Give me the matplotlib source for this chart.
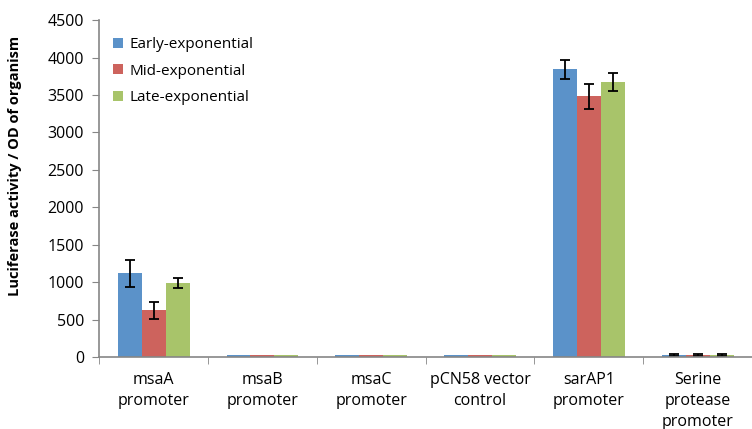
import matplotlib.pyplot as plt
import numpy as np

plt.rcParams['font.family'] = ['Open Sans', 'DejaVu Sans']

# data
categories = ['msaA\npromoter', 'msaB\npromoter', 'msaC\npromoter',
              'pCN58 vector\ncontrol', 'sarAP1\npromoter', 'Serine\nprotease\npromoter']
series = ['Early-exponential', 'Mid-exponential', 'Late-exponential']
early = [1115, 25, 25, 25, 3845, 25]
mid = [625, 25, 25, 25, 3480, 25]
late = [990, 25, 25, 25, 3675, 25]
early_err = [185, 0, 0, 0, 125, 8]
mid_err = [115, 0, 0, 0, 165, 8]
late_err = [65, 0, 0, 0, 120, 8]
colors = ['#5b92c9', '#cd635d', '#a8c46a']

fig = plt.figure(figsize=(7.52, 4.29), dpi=100)
ax = fig.add_axes([0.132, 0.168, 0.868, 0.785])

x = np.arange(len(categories))
w = 0.22
vals = [early, mid, late]
errs = [early_err, mid_err, late_err]
for i in range(3):
    e = np.array(errs[i], dtype=float)
    e[e == 0] = np.nan
    ax.bar(x + (i - 1) * w, vals[i], w, color=colors[i], label=series[i],
           yerr=e, error_kw=dict(ecolor='black', elinewidth=1.3, capsize=3.5, capthick=1.3),
           zorder=2)

ax.set_ylim(0, 4500)
ax.set_yticks(np.arange(0, 4501, 500))
ax.set_xlim(-0.5, 5.39)
ax.set_xticks(x)
ax.set_xticklabels(categories, fontsize=11.5, linespacing=1.4)
ax.set_xticks(np.arange(-0.5, 6, 1), minor=True)
ax.tick_params(axis='x', which='major', length=0, pad=11)
ax.tick_params(axis='x', which='minor', length=5, color='#868686')
ax.tick_params(axis='y', length=5, color='#868686', labelsize=11.5, pad=6)

for s in ['top', 'right']:
    ax.spines[s].set_visible(False)
for s in ['left', 'bottom']:
    ax.spines[s].set_color('#868686')
    ax.spines[s].set_linewidth(1.2)

fig.text(15 / 752, 1 - 166 / 429, 'Luciferase activity / OD of organism', rotation=90,
         ha='center', va='center', fontsize=10.5, fontweight='bold')

ax.legend(loc='upper left', bbox_to_anchor=(0.0, 0.99), frameon=False, fontsize=11,
          handlelength=0.65, handleheight=0.65, handletextpad=0.45, labelspacing=0.75)

fig.savefig('out.png', dpi=100)
